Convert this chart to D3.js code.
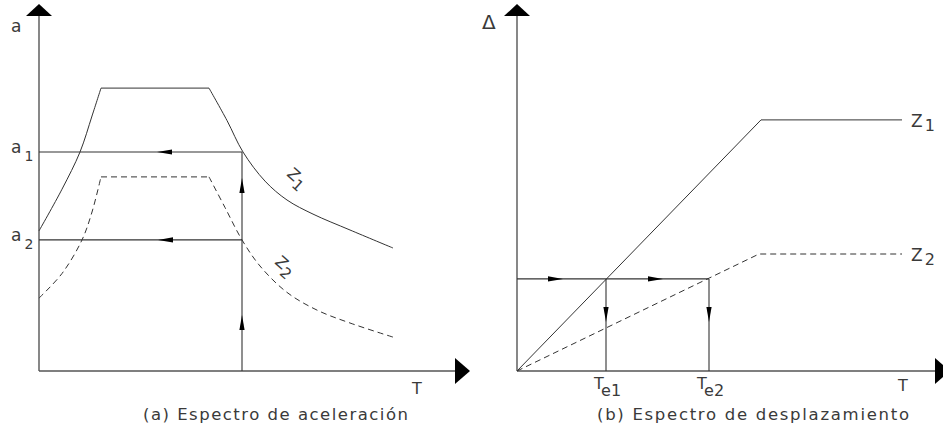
<!DOCTYPE html>
<html>
<head>
<meta charset="utf-8">
<script src="https://cdn.jsdelivr.net/npm/d3@7"></script>
<style>
  body { margin: 0; background: #fff; }
  svg { display: block; }
  text { font-family: "DejaVu Sans", sans-serif; fill: #3a3a3a; }
</style>
</head>
<body>
<svg id="chart" width="943" height="435"></svg>
<script>
// (a) acceleration spectrum, points are [T, a]
const z1Rise = [[0, 0.467], [0.23, 0.606], [0.41, 0.73], [0.53, 0.85], [0.62, 0.943]];
const z1Fall = [[1.70, 0.943], [1.88, 0.835], [2.04, 0.73], [2.26, 0.633], [2.48, 0.57], [2.74, 0.523], [3.11, 0.47], [3.54, 0.41]];
const z2Rise = [[0, 0.243], [0.23, 0.325], [0.43, 0.437], [0.53, 0.53], [0.62, 0.647]];
const z2Fall = [[1.70, 0.647], [1.86, 0.545], [2.03, 0.437], [2.21, 0.35], [2.48, 0.262], [2.78, 0.203], [3.11, 0.16], [3.54, 0.113]];
const aLevels = [0.73, 0.437];     // a1, a2
const aLabels = ["1", "2"];
const tCross = 2.03;
const leftArrowsT = [1.18, 1.19];
const upArrowsA = [0.643, 0.187];

// (b) displacement spectrum, points are [T, Δ]
const d1 = [[0, 0], [2.44, 0.837], [3.85, 0.837]];
const d2 = [[0, 0], [2.42, 0.39], [3.85, 0.39]];
const dTarget = 0.307;
const teValues = [0.89, 1.92];
const teLabels = ["e1", "e2"];
const rightArrowsT = [0.46, 1.46];
const downArrowD = 0.163;

const tMaxA = 4.31, tMaxB = 4.33, yMax = 1.223;

const svg = d3.select("#chart");

let xA = d3.scaleLinear().domain([0, 4]).range([39, 439]);
let xB = d3.scaleLinear().domain([0, 4]).range([517, 917]);
let y = d3.scaleLinear().domain([0, 1]).range([371, 71]);

const ink = "#333";

function arrow(g, px, py, dir, len, half) {
  // dir: "up", "down", "left", "right" ; tip at (px, py)
  let pts;
  if (dir == "up") pts = [[px, py], [px - half, py + len], [px + half, py + len]];
  if (dir == "down") pts = [[px, py], [px - half, py - len], [px + half, py - len]];
  if (dir == "left") pts = [[px, py], [px + len, py - half], [px + len, py + half]];
  if (dir == "right") pts = [[px, py], [px - len, py - half], [px - len, py + half]];
  g.append("polygon").attr("points", pts.map(p => p.join(",")).join(" ")).attr("fill", "#000");
}

function axes(g, x, tMax) {
  g.append("line").attr("x1", x(0)).attr("y1", y(0)).attr("x2", x(0)).attr("y2", y(yMax) + 12)
    .attr("stroke", "#555").attr("stroke-width", 1.4);
  g.append("line").attr("x1", x(0)).attr("y1", y(0)).attr("x2", x(tMax) - 15).attr("y2", y(0))
    .attr("stroke", "#555").attr("stroke-width", 1.4);
  arrow(g, x(0), y(yMax), "up", 12, 13);
  arrow(g, x(tMax), y(0), "right", 15, 13);
}

function smooth(x) {
  return d3.line().x(d => x(d[0])).y(d => y(d[1])).curve(d3.curveCatmullRom.alpha(0.5));
}
function straight(x) {
  return d3.line().x(d => x(d[0])).y(d => y(d[1]));
}

// ---------- (a) ----------
const ga = svg.append("g");
axes(ga, xA, tMaxA);

[[z1Rise, z1Fall, null], [z2Rise, z2Fall, "6,4"]].forEach(([rise, fall, dash]) => {
  [rise, fall].forEach(seg => {
    ga.append("path").attr("d", smooth(xA)(seg)).attr("fill", "none")
      .attr("stroke", ink).attr("stroke-width", 1).attr("stroke-dasharray", dash);
  });
  ga.append("path").attr("d", straight(xA)([rise[rise.length - 1], fall[0]])).attr("fill", "none")
    .attr("stroke", ink).attr("stroke-width", 1).attr("stroke-dasharray", dash);
});

aLevels.forEach((a, i) => {
  ga.append("line").attr("x1", xA(0)).attr("x2", xA(tCross)).attr("y1", y(a)).attr("y2", y(a))
    .attr("stroke", ink).attr("stroke-width", 1.1);
  arrow(ga, xA(leftArrowsT[i]), y(a), "left", 15, 2.6);
  const t = ga.append("text").attr("x", 11).attr("y", y(a) + 1).style("font-size", "17px");
  t.append("tspan").text("a");
  t.append("tspan").attr("dx", 3).attr("dy", 8).style("font-size", "14px").text(aLabels[i]);
});
ga.append("line").attr("x1", xA(tCross)).attr("x2", xA(tCross)).attr("y1", y(0)).attr("y2", y(aLevels[0]))
  .attr("stroke", ink).attr("stroke-width", 1.1);
upArrowsA.forEach(a => arrow(ga, xA(tCross), y(a), "up", 15, 2.6));

ga.append("text").attr("x", 11).attr("y", 32).style("font-size", "17px").text("a");
ga.append("text").attr("x", 412).attr("y", 394).style("font-size", "16px").text("T");

[["1", 286, 175], ["2", 274, 263]].forEach(([s, lx, ly]) => {
  const t = ga.append("text").attr("transform", `translate(${lx},${ly}) rotate(42)`).style("font-size", "16px");
  t.append("tspan").text("Z");
  t.append("tspan").attr("dy", 5).style("font-size", "15px").text(s);
});

ga.append("text").attr("x", 143).attr("y", 420).attr("textLength", 265).attr("lengthAdjust", "spacing")
  .style("font-size", "16.5px").text("(a) Espectro de aceleración");

// ---------- (b) ----------
const gb = svg.append("g");
axes(gb, xB, tMaxB);

gb.append("path").attr("d", straight(xB)(d1)).attr("fill", "none").attr("stroke", ink).attr("stroke-width", 1);
gb.append("path").attr("d", straight(xB)(d2)).attr("fill", "none").attr("stroke", ink).attr("stroke-width", 1)
  .attr("stroke-dasharray", "6,4");

gb.append("line").attr("x1", xB(0)).attr("x2", xB(teValues[1])).attr("y1", y(dTarget)).attr("y2", y(dTarget))
  .attr("stroke", ink).attr("stroke-width", 1.1);
rightArrowsT.forEach(t => arrow(gb, xB(t), y(dTarget), "right", 15, 2.6));

teValues.forEach((te, i) => {
  gb.append("line").attr("x1", xB(te)).attr("x2", xB(te)).attr("y1", y(0)).attr("y2", y(dTarget))
    .attr("stroke", ink).attr("stroke-width", 1.1);
  arrow(gb, xB(te), y(downArrowD), "down", 15, 2.6);
  const t = gb.append("text").attr("x", xB(te) - 12).attr("y", 389).style("font-size", "16px");
  t.append("tspan").text("T");
  t.append("tspan").attr("dy", 7).style("font-size", "16px").text(teLabels[i]);
});

gb.append("text").attr("x", 482).attr("y", 29).style("font-size", "20px").text("Δ");
gb.append("text").attr("x", 898).attr("y", 391).style("font-size", "16px").text("T");

[[d1, "1"], [d2, "2"]].forEach(([d, s]) => {
  const t = gb.append("text").attr("x", xB(d[2][0]) + 9).attr("y", y(d[2][1]) + 7).style("font-size", "17px");
  t.append("tspan").text("Z");
  t.append("tspan").attr("dx", 2).attr("dy", 4).style("font-size", "16px").text(s);
});

gb.append("text").attr("x", 597).attr("y", 420).attr("textLength", 312).attr("lengthAdjust", "spacing")
  .style("font-size", "16.5px").text("(b) Espectro de desplazamiento");
</script>
</body>
</html>
